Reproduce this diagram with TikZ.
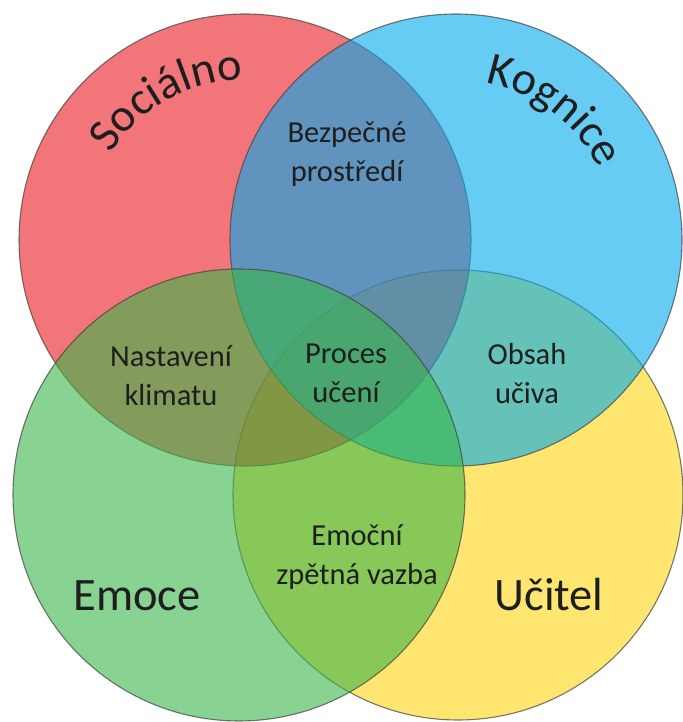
\documentclass[tikz,border=0pt]{standalone}
\usepackage{fontspec}
\setmainfont{Carlito}
\usetikzlibrary{decorations.text}
\definecolor{cred}{RGB}{233,25,33}
\definecolor{cblue}{RGB}{0,170,235}
\definecolor{cgreen}{RGB}{57,182,73}
\definecolor{cyellow}{RGB}{255,213,17}
\definecolor{txt}{RGB}{30,30,30}
\newcommand\smallfnt{\fontsize{30.5}{38.5}\selectfont}
\newcommand\bigfnt{\fontsize{46.5}{56}\selectfont}
\newcommand\twoline[2]{\begin{tabular}[t]{@{}c@{}}#1\\#2\end{tabular}}
\tikzset{
  venn/.style={fill=#1, fill opacity=0.6, draw=black!75, draw opacity=0.7, line width=1.1pt},
  small/.style={font=\smallfnt, text=txt, inner sep=0pt, anchor=base},
  big/.style={font=\bigfnt, text=txt, inner sep=0pt, anchor=base},
}
\begin{document}
\begin{tikzpicture}[x=1pt,y=1pt]
\useasboundingbox (0,0) rectangle (682,722);
\coordinate (rc) at (245,482);
\coordinate (bc) at (456,482);
\coordinate (gc) at (239,227);
\coordinate (yc) at (458,227);
\draw[venn=cyellow] (yc) circle[radius=225];
\draw[venn=cred] (rc) circle[radius=226];
\draw[venn=cblue] (bc) circle[radius=226];
\draw[venn=cgreen] (gc) circle[radius=226];
% curved titles
\path[decorate, decoration={text along path, text align=center,
  text={|\bigfnt\color{txt}|Sociálno}}]
  ([shift={(164:160)}]rc) arc[start angle=164, end angle=74, radius=160];
\path[decorate, decoration={text along path, text align=center,
  text={|\bigfnt\color{txt}|Kognice}}]
  ([shift={(98:160)}]bc) arc[start angle=98, end angle=8, radius=160];
% labels
\node[small] (bez) at (347,579) {\twoline{Bezpečné}{prostředí}};
\node[small] (nas) at (171,355) {\twoline{Nastavení}{klimatu}};
\node[small] (pro) at (346,358) {\twoline{Proces}{učení}};
\node[small] (obs) at (527,357) {\twoline{Obsah}{učiva}};
\node[small] (emz) at (357,176) {\twoline{Emoční}{zpětná vazba}};
\node[big] (emo) at (137,111) {Emoce};
\node[big] (uci) at (549,111) {Učitel};
\end{tikzpicture}
\end{document}
